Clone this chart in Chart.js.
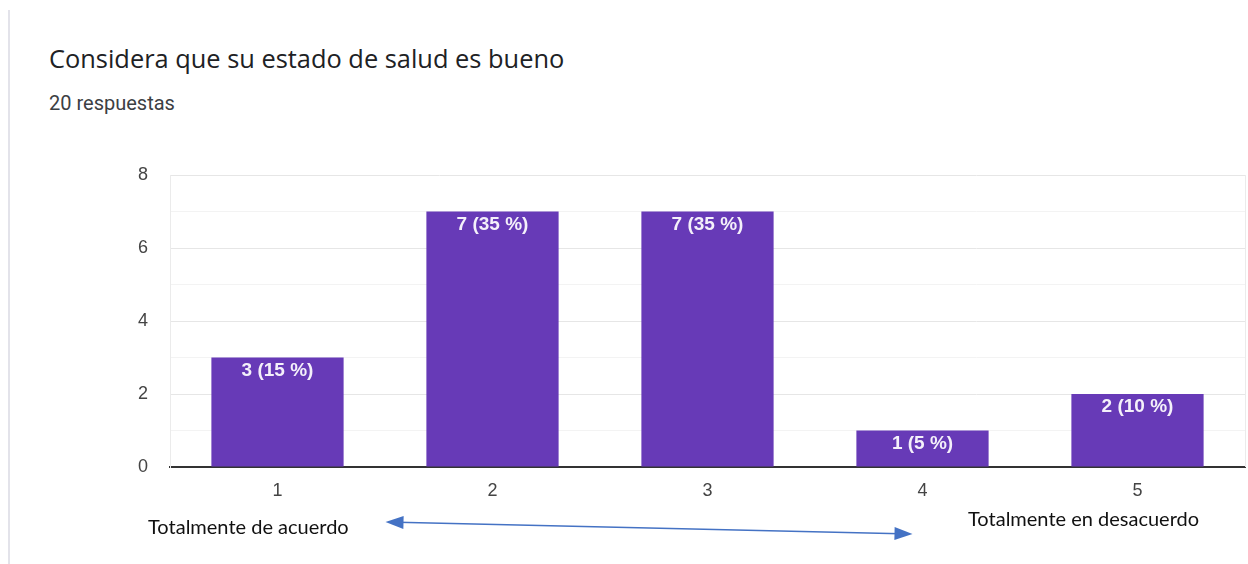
<!DOCTYPE html>
<html>
<head>
<meta charset="utf-8">
<script src="https://cdn.jsdelivr.net/npm/chart.js@4"></script>
<style>
  html, body { margin: 0; padding: 0; background: #fff; }
  body { width: 1248px; height: 564px; position: relative; overflow: hidden; }
  .card-edge { position: absolute; left: 8px; top: 10px; width: 2px; height: 554px; background: #e3e3ea; }
  .title { position: absolute; left: 49px; top: 41px; font: 25.4px "Open Sans", Roboto, sans-serif; color: #202124; }
  .count { position: absolute; left: 49px; top: 91px; font: 20px Roboto, sans-serif; color: #3c4043; }
  #chart { position: absolute; left: 0; top: 0; }
</style>
</head>
<body>
<div class="card-edge"></div>
<div class="title">Considera que su estado de salud es bueno</div>
<div class="count">20 respuestas</div>
<canvas id="chart" width="1248" height="564"></canvas>
<script>
// respuestas por opción (escala 1-5)
const categories = ['1', '2', '3', '4', '5'];
const counts = [3, 7, 7, 1, 2];
const total = 20;
const yTicks = [0, 2, 4, 6, 8];
const leftNote = 'Totalmente de acuerdo';
const rightNote = 'Totalmente en desacuerdo';

const purple = '#673ab7';

// etiqueta "n (xx %)" dentro de cada barra
const barLabels = {
  id: 'barLabels',
  afterDatasetsDraw(chart) {
    const { ctx } = chart;
    const meta = chart.getDatasetMeta(0);
    ctx.save();
    ctx.fillStyle = '#f4f0fa';
    ctx.font = 'bold 19px "Liberation Sans", Arial, sans-serif';
    ctx.textAlign = 'center';
    ctx.textBaseline = 'middle';
    meta.data.forEach((bar, i) => {
      const pct = Math.round(counts[i] / total * 100);
      ctx.fillText(counts[i] + ' (' + pct + ' %)', bar.x, bar.y + 13);
    });
    ctx.restore();
  }
};

// notas de los extremos y la flecha doble
const scaleNotes = {
  id: 'scaleNotes',
  afterDraw(chart) {
    const { ctx } = chart;
    const x = chart.scales.x;
    ctx.save();
    ctx.fillStyle = '#111';
    ctx.font = '20px Lato, "Open Sans", sans-serif';
    ctx.textBaseline = 'middle';
    ctx.textAlign = 'left';
    ctx.fillText(leftNote, 148, 528);
    ctx.fillText(rightNote, 968, 520);

    const x1 = x.getPixelForValue(0) + 108, y1 = 522;
    const x2 = x.getPixelForValue(3) - 10, y2 = 534;
    const ang = Math.atan2(y2 - y1, x2 - x1);
    ctx.strokeStyle = '#4472c4';
    ctx.fillStyle = '#4472c4';
    ctx.lineWidth = 1.3;
    ctx.beginPath();
    ctx.moveTo(x1 + 12 * Math.cos(ang), y1 + 12 * Math.sin(ang));
    ctx.lineTo(x2 - 12 * Math.cos(ang), y2 - 12 * Math.sin(ang));
    ctx.stroke();
    const head = (px, py, a) => {
      ctx.beginPath();
      ctx.moveTo(px, py);
      ctx.lineTo(px - 18 * Math.cos(a) + 6.5 * Math.sin(a), py - 18 * Math.sin(a) - 6.5 * Math.cos(a));
      ctx.lineTo(px - 18 * Math.cos(a) - 6.5 * Math.sin(a), py - 18 * Math.sin(a) + 6.5 * Math.cos(a));
      ctx.closePath();
      ctx.fill();
    };
    head(x2, y2, ang);
    head(x1, y1, ang + Math.PI);

    // borde derecho del área
    ctx.strokeStyle = '#ebebeb';
    ctx.lineWidth = 1;
    ctx.beginPath();
    ctx.moveTo(chart.chartArea.right + 0.5, chart.chartArea.top);
    ctx.lineTo(chart.chartArea.right + 0.5, chart.chartArea.bottom);
    ctx.stroke();
    ctx.restore();
  }
};

new Chart(document.getElementById('chart'), {
  type: 'bar',
  data: {
    labels: categories,
    datasets: [{
      data: counts,
      backgroundColor: purple,
      categoryPercentage: 1,
      barPercentage: 0.615
    }]
  },
  options: {
    responsive: false,
    animation: false,
    layout: { padding: { left: 130, right: 3, top: 175, bottom: 67 } },
    plugins: { legend: { display: false }, tooltip: { enabled: false } },
    scales: {
      x: {
        afterFit: (s) => { s.height = 30; },
        grid: { display: false },
        border: { color: '#333', width: 2 },
        ticks: { color: '#444', font: { family: '"Liberation Sans", Arial', size: 18 }, padding: 5 }
      },
      y: {
        min: 0,
        max: 8,
        afterFit: (s) => { s.width = 40; },
        afterBuildTicks: (s) => { s.ticks = [0, 1, 2, 3, 4, 5, 6, 7, 8].map(v => ({ value: v })); },
        grid: {
          color: (c) => (yTicks.includes(c.tick.value) ? '#e6e6e6' : '#f3f3f3'),
          drawTicks: false
        },
        border: { color: '#ebebeb' },
        ticks: {
          color: '#444',
          font: { family: '"Liberation Sans", Arial', size: 18 },
          padding: 22,
          callback: (v) => (yTicks.includes(v) ? String(v) : '')
        }
      }
    }
  },
  plugins: [barLabels, scaleNotes]
});
</script>
</body>
</html>
